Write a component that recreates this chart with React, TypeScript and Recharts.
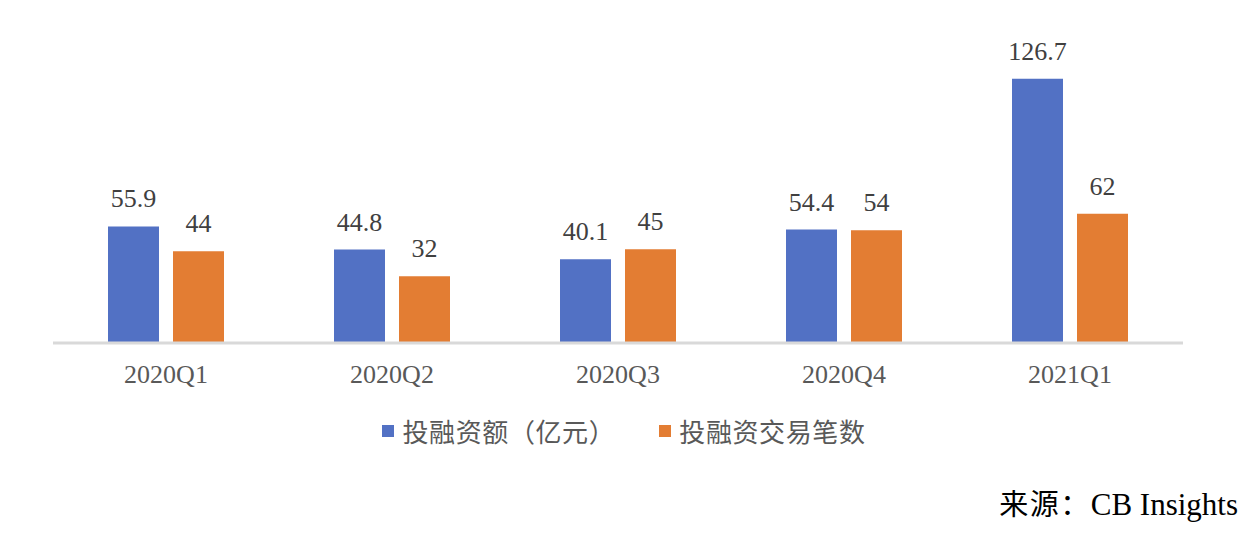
import React from 'react';
import { BarChart, Bar, XAxis, YAxis, LabelList } from 'recharts';

const categories = ['2020Q1', '2020Q2', '2020Q3', '2020Q4', '2021Q1'];
const amountValues = [55.9, 44.8, 40.1, 54.4, 126.7];
const countValues = [44, 32, 45, 54, 62];
const seriesNames = ['投融资额（亿元）', '投融资交易笔数'];
const seriesColors = ['#5271C4', '#E37D33'];
const sourceText = ['来源：', 'CB Insights'];

const data = categories.map((c, i) => ({ name: c, amount: amountValues[i], count: countValues[i] }));

const serif = '"Liberation Serif", "Times New Roman", serif';
const cjk = '"Noto Sans CJK SC", sans-serif';

export default function App() {
  return (
    <div style={{ position: 'absolute', left: 0, top: 0, width: 1255, height: 533, background: '#fff' }}>
      <BarChart
        width={1255}
        height={533}
        data={data}
        margin={{ top: 51, right: 72, bottom: 150, left: 53 }}
        barSize={51}
        barGap={14}
      >
        <YAxis hide domain={[0, 140]} />
        <XAxis
          dataKey="name"
          height={40}
          tickLine={false}
          tickSize={6}
          tickMargin={16}
          axisLine={{ stroke: '#d9d9d9', strokeWidth: 3 }}
          tick={{ fill: '#595959', fontSize: 26, fontFamily: serif }}
        />
        <Bar dataKey="amount" fill={seriesColors[0]} isAnimationActive={false}>
          <LabelList dataKey="amount" position="top" offset={19} fill="#404040" fontSize={26} fontFamily={serif} />
        </Bar>
        <Bar dataKey="count" fill={seriesColors[1]} isAnimationActive={false}>
          <LabelList dataKey="count" position="top" offset={19} fill="#404040" fontSize={26} fontFamily={serif} />
        </Bar>
      </BarChart>
      <div
        style={{
          position: 'absolute',
          left: 0,
          top: 413,
          width: 1248,
          display: 'flex',
          justifyContent: 'center',
          alignItems: 'center',
          fontFamily: cjk,
          fontSize: 26,
          letterSpacing: '0.6px',
          color: '#595959',
          lineHeight: '36px',
        }}
      >
        {seriesNames.map((n, i) => (
          <div key={n} style={{ display: 'flex', alignItems: 'center', marginLeft: i === 0 ? 0 : 44 }}>
            <span style={{ display: 'inline-block', width: 12, height: 12, background: seriesColors[i], marginRight: 8 }} />
            <span>{n}</span>
          </div>
        ))}
      </div>
      <div
        style={{
          position: 'absolute',
          right: 17,
          top: 482,
          whiteSpace: 'nowrap',
          color: '#000',
          lineHeight: '40px',
        }}
      >
        <span style={{ fontFamily: cjk, fontSize: 29, letterSpacing: '1.5px' }}>{sourceText[0]}</span>
        <span style={{ fontFamily: serif, fontSize: 31 }}>{sourceText[1]}</span>
      </div>
    </div>
  );
}
